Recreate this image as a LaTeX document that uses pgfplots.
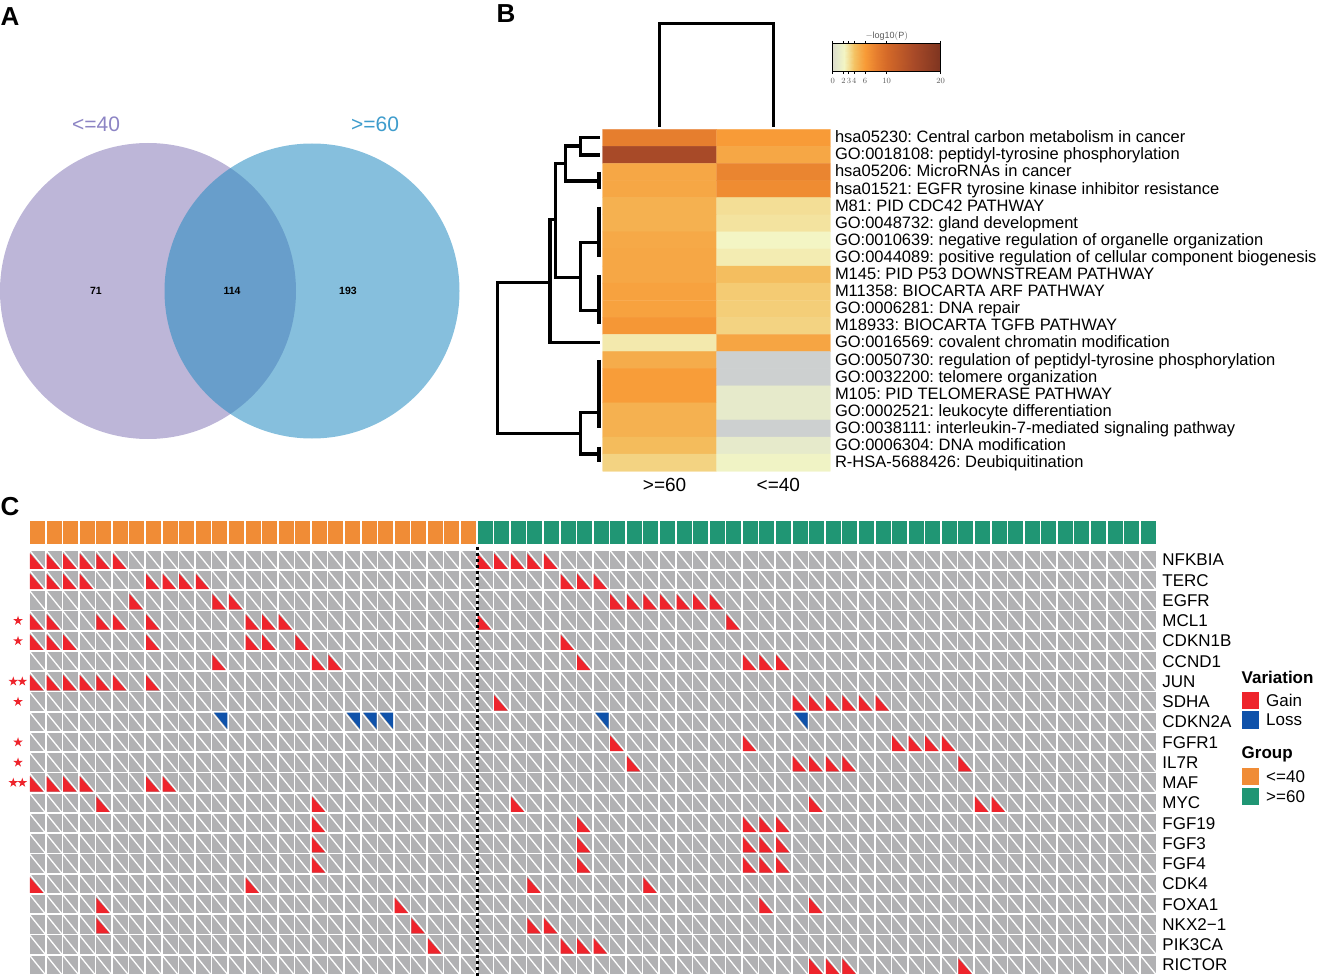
\documentclass[border=0pt]{standalone}
\usepackage{fontspec}
\setmainfont{Liberation Sans}
\usepackage{pgfplots}
\usepackage{pgfplotstable}
\pgfplotsset{compat=1.18}
\usetikzlibrary{plotmarks}

\definecolor{cellgray}{RGB}{177,177,179}
\definecolor{gainred}{RGB}{238,36,44}
\definecolor{lossblue}{RGB}{15,82,170}
\definecolor{grporange}{RGB}{240,140,54}
\definecolor{grpgreen}{RGB}{32,150,116}
\definecolor{vennleft}{RGB}{189,182,216}
\definecolor{vennright}{RGB}{35,139,193}
\definecolor{vennlefttext}{RGB}{140,132,196}
\definecolor{vennrighttext}{RGB}{62,156,204}

% colormap of the heatmap: first two stops are the grey "no value" cells (-1)
\pgfplotsset{
  colormap={hm}{rgb255(0cm)=(205,208,208) rgb255(0.9cm)=(205,208,208) rgb255(1cm)=(222,222,205)
    rgb255(2cm)=(230,234,203) rgb255(3cm)=(243,245,196) rgb255(4cm)=(243,222,150)
    rgb255(5cm)=(244,195,100) rgb255(6cm)=(245,172,75) rgb255(7cm)=(248,155,55)
    rgb255(9cm)=(230,126,46) rgb255(11cm)=(212,105,40) rgb255(16cm)=(168,74,40) rgb255(21cm)=(125,52,32)},
  colormap={hmbar}{rgb255(0cm)=(222,222,205)
    rgb255(1cm)=(230,234,203) rgb255(2cm)=(243,245,196) rgb255(3cm)=(243,222,150)
    rgb255(4cm)=(244,195,100) rgb255(5cm)=(245,172,75) rgb255(6cm)=(248,155,55)
    rgb255(8cm)=(230,126,46) rgb255(10cm)=(212,105,40) rgb255(15cm)=(168,74,40) rgb255(20cm)=(125,52,32)},
}

% oncoprint marks, 1pt = 1 px of the reference
\pgfdeclareplotmark{cellbg}{%
  \pgfsetfillcolor{cellgray}%
  \pgfpathrectangle{\pgfpoint{-7.5pt}{-9.25pt}}{\pgfpoint{15pt}{18.5pt}}\pgfusepathqfill
  \pgfsetstrokecolor{white}\pgfsetlinewidth{1.3pt}%
  \pgfpathmoveto{\pgfpoint{-7.5pt}{9.25pt}}\pgfpathlineto{\pgfpoint{7.5pt}{-9.25pt}}\pgfusepathqstroke}
\pgfdeclareplotmark{gain}{%
  \pgfsetfillcolor{gainred}%
  \pgfpathmoveto{\pgfpoint{-7.5pt}{6.5pt}}\pgfpathlineto{\pgfpoint{-7.5pt}{-8.8pt}}%
  \pgfpathlineto{\pgfpoint{5.8pt}{-8.8pt}}\pgfpathclose\pgfusepathqfill}
\pgfdeclareplotmark{loss}{%
  \pgfsetfillcolor{lossblue}%
  \pgfpathmoveto{\pgfpoint{-5.8pt}{9.25pt}}\pgfpathlineto{\pgfpoint{7.5pt}{9.25pt}}%
  \pgfpathlineto{\pgfpoint{7.5pt}{-7pt}}\pgfpathclose\pgfusepathqfill}
\pgfdeclareplotmark{gbox}{%
  \pgfpathrectangle{\pgfpoint{-7.5pt}{-11.2pt}}{\pgfpoint{15pt}{22.4pt}}\pgfusepathqfill}
\pgfdeclareplotmark{lbox}{%
  \pgfpathrectangle{\pgfpoint{-8.5pt}{-8.7pt}}{\pgfpoint{17pt}{17.4pt}}\pgfusepathqfill}
\pgfdeclareplotmark{rstar}{%
  \pgfsetfillcolor{gainred}%
  \pgfpathmoveto{\pgfpointpolar{90}{5pt}}\pgfpathlineto{\pgfpointpolar{234}{5pt}}%
  \pgfpathlineto{\pgfpointpolar{18}{5pt}}\pgfpathlineto{\pgfpointpolar{162}{5pt}}%
  \pgfpathlineto{\pgfpointpolar{306}{5pt}}\pgfpathclose\pgfusepathqfill}
% venn circles
\pgfdeclareplotmark{vennL}{%
  \pgfsetfillcolor{vennleft}%
  \pgfpathcircle{\pgfpointorigin}{148pt}\pgfusepathqfill}
\pgfdeclareplotmark{vennR}{%
  \pgfsetfillcolor{vennright}\pgfsetfillopacity{0.55}%
  \pgfpathcircle{\pgfpointorigin}{147.5pt}\pgfusepathqfill}

% panel C: col row of each altered cell
\pgfplotstableread[row sep=\\]{
col row\\
0 0\\ 1 0\\ 2 0\\ 3 0\\ 4 0\\ 5 0\\ 27 0\\ 28 0\\ 29 0\\ 30 0\\ 31 0\\
0 1\\ 1 1\\ 2 1\\ 3 1\\ 7 1\\ 8 1\\ 9 1\\ 10 1\\ 32 1\\ 33 1\\ 34 1\\
6 2\\ 11 2\\ 12 2\\ 35 2\\ 36 2\\ 37 2\\ 38 2\\ 39 2\\ 40 2\\ 41 2\\
0 3\\ 1 3\\ 4 3\\ 5 3\\ 7 3\\ 13 3\\ 14 3\\ 15 3\\ 27 3\\ 42 3\\
0 4\\ 1 4\\ 2 4\\ 7 4\\ 13 4\\ 14 4\\ 16 4\\ 32 4\\
11 5\\ 17 5\\ 18 5\\ 33 5\\ 43 5\\ 44 5\\ 45 5\\
0 6\\ 1 6\\ 2 6\\ 3 6\\ 4 6\\ 5 6\\ 7 6\\
28 7\\ 46 7\\ 47 7\\ 48 7\\ 49 7\\ 50 7\\ 51 7\\
35 9\\ 43 9\\ 52 9\\ 53 9\\ 54 9\\ 55 9\\
36 10\\ 46 10\\ 47 10\\ 48 10\\ 49 10\\ 56 10\\
0 11\\ 1 11\\ 2 11\\ 3 11\\ 7 11\\ 8 11\\
4 12\\ 17 12\\ 29 12\\ 47 12\\ 57 12\\ 58 12\\
17 13\\ 33 13\\ 43 13\\ 44 13\\ 45 13\\
17 14\\ 33 14\\ 43 14\\ 44 14\\ 45 14\\
17 15\\ 33 15\\ 43 15\\ 44 15\\ 45 15\\
0 16\\ 13 16\\ 30 16\\ 37 16\\
4 17\\ 22 17\\ 44 17\\ 47 17\\
4 18\\ 23 18\\ 30 18\\ 31 18\\
24 19\\ 32 19\\ 33 19\\ 34 19\\
47 20\\ 48 20\\ 49 20\\ 56 20\\
}\gaintable
\pgfplotstableread[row sep=\\]{
col row\\
11 8\\ 19 8\\ 20 8\\ 21 8\\ 34 8\\ 46 8\\
}\losstable

% panel B: col row -log10(P), -1 for no value
\pgfplotstableread[row sep=\\]{
x y c\\
0 0 8\\ 1 0 6\\
0 1 15\\ 1 1 5.3\\
0 2 5.3\\ 1 2 7.5\\
0 3 5.3\\ 1 3 7\\
0 4 4.8\\ 1 4 3\\
0 5 4.8\\ 1 5 2.8\\
0 6 5.2\\ 1 6 2\\
0 7 5.3\\ 1 7 2.4\\
0 8 5.3\\ 1 8 4.2\\
0 9 5.6\\ 1 9 3.7\\
0 10 5.6\\ 1 10 3.6\\
0 11 6.3\\ 1 11 3.4\\
0 12 2.5\\ 1 12 5.4\\
0 13 5\\ 1 13 -1\\
0 14 5.9\\ 1 14 -1\\
0 15 5.9\\ 1 15 1\\
0 16 4.8\\ 1 16 1\\
0 17 4.8\\ 1 17 -1\\
0 18 4.3\\ 1 18 1\\
0 19 3.4\\ 1 19 1.8\\
}\heattable

\newcommand{\fs}[1]{\fontsize{#1}{#1}\selectfont}

% background grid and group bar positions
\def\cellpts{}%
\pgfplotsforeachungrouped \ri in {0,...,20}{%
  \pgfplotsforeachungrouped \ci in {0,...,67}{\xdef\cellpts{\cellpts (\ci,\ri)}}}%
\def\orangepts{}%
\pgfplotsforeachungrouped \ci in {0,...,26}{\xdef\orangepts{\orangepts (\ci,-1.354)}}%
\def\greenpts{}%
\pgfplotsforeachungrouped \ci in {27,...,67}{\xdef\greenpts{\greenpts (\ci,-1.354)}}%

\begin{document}%
\frenchspacing%
\begin{tikzpicture}[x=1pt,y=1pt]
\useasboundingbox (0,0) rectangle (1318pt,979pt);

% canvas in reference pixels: venn, dendrograms, legend boxes
\begin{axis}[
    at={(0pt,0pt)}, anchor=south west, scale only axis,
    width=1318pt, height=979pt,
    xmin=0, xmax=1318, ymin=0, ymax=979, y dir=reverse,
    hide axis, clip=false]
  % venn
  \addplot[only marks, mark=vennL] coordinates {(148,291)};
  \addplot[only marks, mark=vennR] coordinates {(312,291)};
  % top dendrogram
  \addplot[black, line width=3.4pt] coordinates {(659.3,126.7) (659.3,23.3) (773.3,23.3) (773.3,126.7)};
  % left dendrogram
  \addplot[black, line width=3.4pt] coordinates {(600,137.3) (580.7,137.3) (580.7,155) (600,155)};
  \addplot[black, line width=3.4pt] coordinates {(580.7,146) (565.7,146) (565.7,181) (600,181)};
  \addplot[black, line width=3.4pt] coordinates {(599,172) (599,189)};
  \addplot[black, line width=3.4pt] coordinates {(565.7,163.3) (555.7,163.3) (555.7,277.3) (580.7,277.3)};
  \addplot[black, line width=3.4pt] coordinates {(599,242.7) (580.7,242.7) (580.7,310.7) (599,310.7)};
  \addplot[black, line width=3.4pt] coordinates {(599,206.7) (599,256.7)};
  \addplot[black, line width=3.4pt] coordinates {(599,275) (599,324)};
  \addplot[black, line width=3.4pt] coordinates {(555.7,219.3) (550,219.3) (550,342.3) (600,342.3)};
  \addplot[black, line width=3.4pt] coordinates {(550,282.7) (497.3,282.7) (497.3,433.3) (580.7,433.3)};
  \addplot[black, line width=3.4pt] coordinates {(599,412.3) (580.7,412.3) (580.7,454) (599,454)};
  \addplot[black, line width=3.4pt] coordinates {(599,360) (599,428.3)};
  \addplot[black, line width=3.4pt] coordinates {(599,446.7) (599,461.7)};
  % oncoprint legends
  \addplot[only marks, mark=lbox, mark options={fill=gainred}] coordinates {(1250.8,700.3)};
  \addplot[only marks, mark=lbox, mark options={fill=lossblue}] coordinates {(1250.8,719.8)};
  \addplot[only marks, mark=lbox, mark options={fill=grporange}] coordinates {(1250.8,776.2)};
  \addplot[only marks, mark=lbox, mark options={fill=grpgreen}] coordinates {(1250.8,796.2)};
\end{axis}

% panel B heatmap
\begin{axis}[
    at={(602.7pt,507.7pt)}, anchor=south west, scale only axis,
    width=227.6pt, height=342pt,
    xmin=-0.5, xmax=1.5, ymin=-0.5, ymax=19.5, y dir=reverse,
    colormap name=hm, point meta min=-1, point meta max=20,
    axis line style={draw=none}, tick style={draw=none},
    xtick={0,1}, xticklabels={>=60,<=40},
    xticklabel style={font=\fs{19}, xshift=5pt, yshift=-3pt},
    ytick={0,...,19}, yticklabel pos=right,
    yticklabel style={font=\fs{16.5}, anchor=west, inner sep=0pt, xshift=4.5pt, yshift=-0.8pt, text height=11.8pt, text depth=3.5pt},
    yticklabels={
      {hsa05230: Central carbon metabolism in cancer},
      {GO:0018108: peptidyl-tyrosine phosphorylation},
      {hsa05206: MicroRNAs in cancer},
      {hsa01521: EGFR tyrosine kinase inhibitor resistance},
      {M81: PID CDC42 PATHWAY},
      {GO:0048732: gland development},
      {GO:0010639: negative regulation of organelle organization},
      {GO:0044089: positive regulation of cellular component biogenesis},
      {M145: PID P53 DOWNSTREAM PATHWAY},
      {M11358: BIOCARTA ARF PATHWAY},
      {GO:0006281: DNA repair},
      {M18933: BIOCARTA TGFB PATHWAY},
      {GO:0016569: covalent chromatin modification},
      {GO:0050730: regulation of peptidyl-tyrosine phosphorylation},
      {GO:0032200: telomere organization},
      {M105: PID TELOMERASE PATHWAY},
      {GO:0002521: leukocyte differentiation},
      {GO:0038111: interleukin-7-mediated signaling pathway},
      {GO:0006304: DNA modification},
      {R-HSA-5688426: Deubiquitination}}]
  \addplot[matrix plot*, mesh/cols=2, point meta=explicit] table[x=x, y=y, meta=c] {\heattable};
\end{axis}

% colour key of panel B
\begin{axis}[
    at={(832.7pt,907.3pt)}, anchor=south west, scale only axis,
    width=108pt, height=28.4pt,
    xmin=0, xmax=20, ymin=0, ymax=1,
    colormap name=hmbar, point meta min=0, point meta max=20,
    axis line style={line width=1.5pt},
    ytick=\empty, xtick={0,2,3,4,6,10,20},
    tick align=outside, major tick length=2.5pt, tick style={black, line width=1pt},
    xticklabel style={font=\fs{8}, text=black!65, inner sep=1pt, yshift=-3pt},
    title style={font=\fs{9}, text=black!65, yshift=-7pt},
    title={$-\mathrm{log10(P)}$}, axis on top]
  \addplot[surf, shader=interp, mesh/cols=11, point meta=explicit] table[x=x, y=y, meta=c, row sep=\\] {
    x y c\\
    0 0 0\\ 1 0 1\\ 2 0 2\\ 3 0 3\\ 4 0 4\\ 5 0 5\\ 6 0 6\\ 8 0 8\\ 10 0 10\\ 15 0 15\\ 20 0 20\\
    0 1 0\\ 1 1 1\\ 2 1 2\\ 3 1 3\\ 4 1 4\\ 5 1 5\\ 6 1 6\\ 8 1 8\\ 10 1 10\\ 15 1 15\\ 20 1 20\\
  };
\end{axis}

% panel C oncoprint
\begin{axis}[
    at={(29.2pt,3.9pt)}, anchor=south west, scale only axis,
    width=1127.4pt, height=425.25pt,
    xmin=-0.5, xmax=67.5, ymin=-0.5, ymax=20.5, y dir=reverse,
    clip=false,
    axis line style={draw=none}, tick style={draw=none},
    xtick=\empty,
    ytick={0,...,20}, yticklabel pos=right,
    yticklabel style={font=\fs{17}, anchor=west, inner sep=0pt, xshift=5.7pt},
    yticklabels={NFKBIA,TERC,EGFR,MCL1,CDKN1B,CCND1,JUN,SDHA,CDKN2A,FGFR1,IL7R,MAF,MYC,
      FGF19,FGF3,FGF4,CDK4,FOXA1,NKX2−1,PIK3CA,RICTOR}]
  \edef\tmp{\noexpand\addplot[only marks, mark=cellbg] coordinates {\cellpts};}\tmp
  \edef\tmp{\noexpand\addplot[only marks, mark=gbox, mark options={fill=grporange}] coordinates {\orangepts};}\tmp
  \edef\tmp{\noexpand\addplot[only marks, mark=gbox, mark options={fill=grpgreen}] coordinates {\greenpts};}\tmp
  \addplot[only marks, mark=gain] table[x=col, y=row] {\gaintable};
  \addplot[only marks, mark=loss] table[x=col, y=row] {\losstable};
  % significance stars
  \addplot[only marks, mark=rstar] coordinates {
    (-1.175,3) (-1.175,4) (-1.46,6) (-0.916,6) (-1.175,7) (-1.175,9) (-1.175,10) (-1.46,11) (-0.916,11)};
\end{axis}

% overlay in reference pixels: everything that has to sit above the marks
\begin{axis}[
    at={(0pt,0pt)}, anchor=south west, scale only axis,
    width=1318pt, height=979pt,
    xmin=0, xmax=1318, ymin=0, ymax=979, y dir=reverse,
    hide axis, clip=false]
  % split between the two groups
  \addplot[black, line width=2.6pt, dash pattern=on 3pt off 3pt] coordinates {(477.3,546.7) (477.3,978)};
  \node[text=vennlefttext] at (axis cs:96,124) {\fs{21}<=40};
  \node[text=vennrighttext] at (axis cs:375,124) {\fs{21}>=60};
  \node at (axis cs:96,291) {\fs{10.5}\bfseries 71};
  \node at (axis cs:232,291) {\fs{10.5}\bfseries 114};
  \node at (axis cs:348,291) {\fs{10.5}\bfseries 193};
  \node at (axis cs:10,17) {\fs{26}\bfseries A};
  \node at (axis cs:506,14) {\fs{26}\bfseries B};
  \node at (axis cs:10,507) {\fs{26}\bfseries C};
  \node[anchor=west, inner sep=0pt] at (axis cs:1241.5,677) {\fs{17}\bfseries Variation};
  \node[anchor=west, inner sep=0pt] at (axis cs:1266,700) {\fs{17}Gain};
  \node[anchor=west, inner sep=0pt] at (axis cs:1266,720) {\fs{17}Loss};
  \node[anchor=west, inner sep=0pt] at (axis cs:1241.5,754) {\fs{17}\bfseries Group};
  \node[anchor=west, inner sep=0pt] at (axis cs:1266,777) {\fs{17}<=40};
  \node[anchor=west, inner sep=0pt] at (axis cs:1266,797) {\fs{17}>=60};
\end{axis}
\end{tikzpicture}%
\end{document}
